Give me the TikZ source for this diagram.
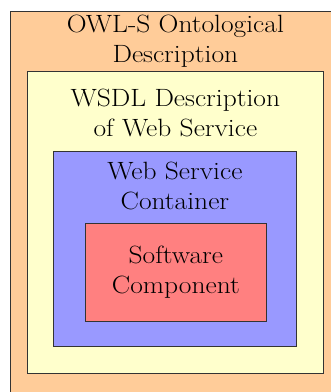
\documentclass[tikz,border=0pt]{standalone}
\usepackage{fontspec}
\setmainfont{Latin Modern Roman}[FakeStretch=1.1]
\usetikzlibrary{positioning}
\definecolor{owlfill}{HTML}{FFCC99}
\definecolor{wsdlfill}{HTML}{FFFFCC}
\definecolor{contfill}{HTML}{9999FF}
\definecolor{compfill}{HTML}{FF8080}
\tikzset{%
  layer/.style={draw=black!80, line width=0.8pt, rectangle, inner sep=0pt, anchor=north west},
  title/.style={align=center, inner sep=0pt, text=black,
    font=\fontsize{25}{29.5}\selectfont}
}
\begin{document}
\begin{tikzpicture}[x=1pt, y=1pt]
  \useasboundingbox (0,0) rectangle (331,392);
  \clip (0,0) rectangle (331,392);

  \node[layer, fill=owlfill, minimum width=330pt, minimum height=392pt] (owl) at (10,381) {};
  \node[layer, fill=wsdlfill, minimum width=296pt, minimum height=302pt] (wsdl) at (27,321) {};
  \node[layer, fill=contfill, minimum width=243pt, minimum height=195pt] (cont) at (53,241) {};
  \node[layer, fill=compfill, minimum width=181pt, minimum height=98pt] (comp) at (85,169) {};

  \node[title, anchor=north, below=4pt of owl.north] (owltext) {OWL-S Ontological\\Description};
  \node[title, anchor=north, below=18pt of wsdl.north] (wsdltext) {WSDL Description\\of Web Service};
  \node[title, anchor=north, below=11pt of cont.north] (conttext) {Web Service\\Container};
  \node[title] (comptext) at (comp.center) {Software\\Component};
\end{tikzpicture}
\end{document}
